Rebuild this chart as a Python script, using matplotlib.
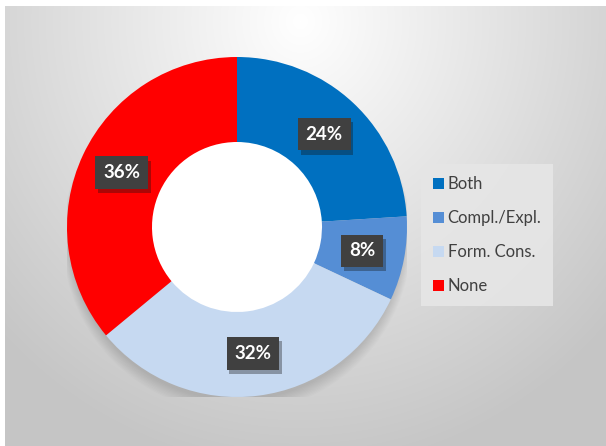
import numpy as np
import matplotlib.pyplot as plt
import matplotlib.patheffects as pe
from matplotlib.patches import Circle

# данные диаграммы
categories = ["Both", "Compl./Expl.", "Form. Cons.", "None"]
shares = [24, 8, 32, 36]
colors = ["#0070C0", "#558ED5", "#C6D9F1", "#FF0000"]

W, H = 606, 446
fig = plt.figure(figsize=(W / 100, H / 100), dpi=100)
fig.patch.set_facecolor("white")

# фон с радиальным градиентом
bg = fig.add_axes([5 / W, 0, (W - 5) / W, (H - 6) / H])
bg.set_axis_off()
yy, xx = np.mgrid[0:440, 0:601]
d = np.sqrt(((xx - 295) / 400.0) ** 2 + ((yy - 15) / 430.0) ** 2)
gray = 255 - 55 * np.clip(d, 0, 1.05)
bg.imshow(np.dstack([gray] * 3).astype(np.uint8), aspect="auto",
          extent=[0, 1, 0, 1], origin="upper")

# кольцевая диаграмма
cx, cy, R = 237, 227, 170
ax = fig.add_axes([(cx - R) / W, (H - cy - R) / H, 2 * R / W, 2 * R / H])
ax.set_axis_off()

# мягкая тень под кольцом
for k in range(10):
    ax.add_patch(Circle((0, -0.03 - 0.004 * k), 0.99 + 0.004 * k,
                        facecolor="black", alpha=0.012, lw=0, zorder=0))
ax.add_patch(Circle((0, 0.0), 0.51, facecolor="white", lw=0, zorder=0.5))

wedges, _ = ax.pie(shares, colors=colors, startangle=90, counterclock=False,
                   radius=1.0, wedgeprops=dict(width=0.5, linewidth=0))
for w in wedges:
    w.set_zorder(2)
ax.set_xlim(-1, 1)
ax.set_ylim(-1, 1)

for w, val in zip(wedges, shares):
    ang = np.deg2rad((w.theta1 + w.theta2) / 2)
    x, y = 0.75 * np.cos(ang), 0.75 * np.sin(ang)
    t = ax.text(x, y, f"{val}%", ha="center", va="center", fontsize=13.5,
                fontweight="bold", family="Lato", color="white", zorder=4,
                bbox=dict(boxstyle="square,pad=0.42", facecolor="#404040", lw=0))
    t.get_bbox_patch().set_path_effects(
        [pe.SimplePatchShadow(offset=(2, -3), alpha=0.35), pe.Normal()])

leg = fig.legend(wedges, categories, loc="center left",
                 bbox_to_anchor=(421 / W, 1 - 235 / H),
                 frameon=True, fancybox=False, facecolor="#e6e6e6",
                 edgecolor="none", framealpha=0.9,
                 prop=dict(family="Lato", size=12),
                 handlelength=0.65, handleheight=0.65, handletextpad=0.25,
                 labelspacing=1.08, borderpad=0.7, borderaxespad=0)
for txt in leg.get_texts():
    txt.set_color("#404040")

fig.savefig("out.png", dpi=100)
